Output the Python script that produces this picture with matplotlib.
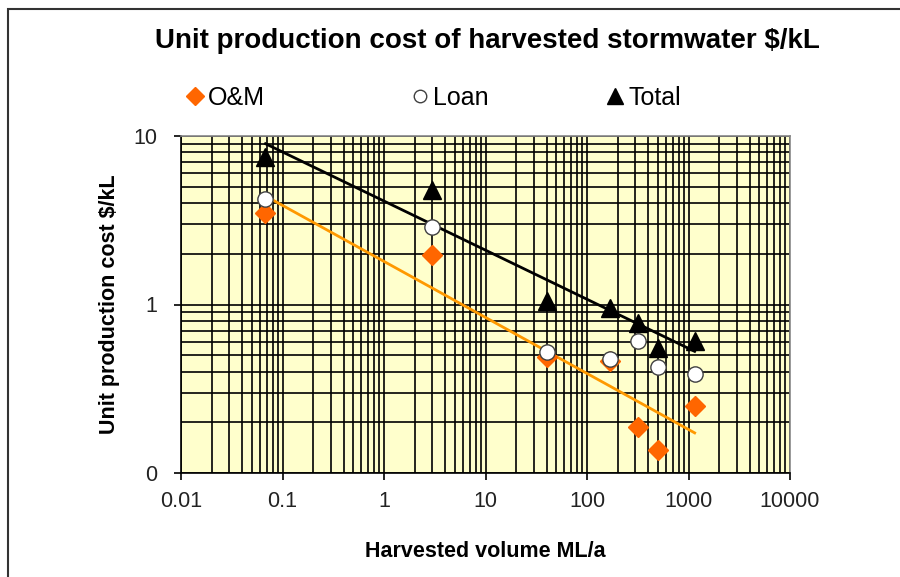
import numpy as np
import matplotlib
matplotlib.use("Agg")
import matplotlib.pyplot as plt
from matplotlib.patches import Rectangle

plt.rcParams['font.family'] = ['Liberation Sans', 'DejaVu Sans']

# values (log-log)
volume = [0.068, 3.0, 40, 170, 320, 500, 1150]
om_cost = [3.5, 1.97, 0.49, 0.46, 0.188, 0.136, 0.25]
loan_cost = [4.2, 2.9, 0.52, 0.475, 0.61, 0.427, 0.387]
total_cost = [7.5, 4.8, 1.05, 0.95, 0.78, 0.55, 0.61]

x_ticks = [0.01, 0.1, 1, 10, 100, 1000, 10000]
x_labels = ['0.01', '0.1', '1', '10', '100', '1000', '10000']
y_ticks = [0.1, 1, 10]
y_labels = ['0', '1', '10']

om_color = '#FF6600'
trend_om_color = '#FF9900'
bg = '#FFFFCC'


def power_trend(x, y):
    # Excel-style power trendline: straight fit in log-log space
    lx = np.log10(x)
    slope, icpt = np.polyfit(lx, np.log10(y), 1)
    xs = np.array([min(x), max(x)])
    return xs, 10 ** (icpt + slope * np.log10(xs))


fig = plt.figure(figsize=(9, 5.77), dpi=100)
ax = fig.add_axes([181 / 900, 1 - 473 / 577, (790 - 181) / 900, (473 - 136) / 577])
ax.set_facecolor(bg)
ax.set_xscale('log')
ax.set_yscale('log')
ax.set_xlim(0.01, 10000)
ax.set_ylim(0.1, 10)

ax.grid(True, which='both', color='black', linewidth=1.2)
ax.set_axisbelow(True)

tx, ty = power_trend(volume, om_cost)
ax.plot(tx, ty, color=trend_om_color, linewidth=2.0, zorder=3)
tx, ty = power_trend(volume, total_cost)
ax.plot(tx, ty, color='black', linewidth=2.0, zorder=3)

h_om, = ax.plot(volume, om_cost, linestyle='none', marker='D', markersize=10.5,
                color=om_color, markeredgecolor=om_color, zorder=4, label='O&M')
h_loan, = ax.plot(volume, loan_cost, linestyle='none', marker='o', markersize=11,
                  markerfacecolor='white', markeredgecolor='#404040',
                  markeredgewidth=1.0, zorder=5, label='Loan')
h_tot, = ax.plot(volume, total_cost, linestyle='none', marker='^', markersize=13,
                 color='black', zorder=6, label='Total')

ax.set_xticks(x_ticks)
ax.set_xticklabels(x_labels)
ax.set_yticks(y_ticks)
ax.set_yticklabels(y_labels)
ax.tick_params(which='minor', length=0)
ax.tick_params(which='major', length=5, width=1.2, color='black',
               labelsize=15.5, labelcolor='#222222')
ax.tick_params(axis='x', pad=8)
ax.tick_params(axis='y', pad=12)

for s in ['left', 'bottom']:
    ax.spines[s].set_color('black')
    ax.spines[s].set_linewidth(1.2)
for s in ['top', 'right']:
    ax.spines[s].set_color('#888888')
    ax.spines[s].set_linewidth(1.2)

ax.set_xlabel('Harvested volume ML/a', fontsize=15.5, fontweight='bold', labelpad=21)
ax.set_ylabel('Unit production cost $/kL', fontsize=15.5, fontweight='bold', labelpad=10)

fig.text(487 / 900, 1 - 41 / 577, 'Unit production cost of harvested stormwater $/kL',
         ha='center', va='center', fontsize=20, fontweight='bold')

# legend entries spread across the top like the Excel chart
for h, xpos, ms in [(h_om, 187, 9), (h_loan, 412, 9), (h_tot, 607, 11)]:
    fig.legend(handles=[h], loc='center left', bbox_to_anchor=(xpos / 900, 1 - 98 / 577),
               frameon=False, fontsize=18, handlelength=0.6, handletextpad=0.25,
               borderpad=0, borderaxespad=0, markerscale=ms / h.get_markersize())

# chart frame (runs off the right and bottom edges)
fig.patches.append(Rectangle((8 / 900, -0.1), 1.2, 1.1 - 9 / 577, transform=fig.transFigure,
                             fill=False, edgecolor='#333333', linewidth=1.5))

fig.savefig('out.png', dpi=100, facecolor='white')
